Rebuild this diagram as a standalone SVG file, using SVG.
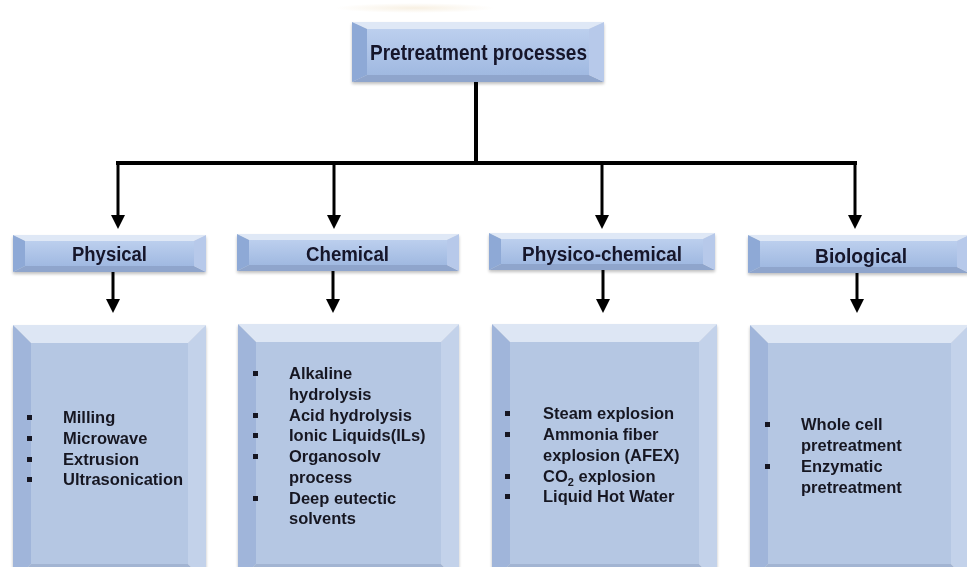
<svg xmlns="http://www.w3.org/2000/svg" width="967" height="567" viewBox="0 0 967 567">
<defs>
<style>
.face{fill:url(#gFace)}
.bt{fill:#dfe8f6}.bl{fill:#8ea9d6}.br{fill:#b7c9ea}.bb{fill:#8fa5cc}
.dface{fill:#b5c7e3}
.dt{fill:#dde6f4}.dl{fill:#a0b5da}.dr{fill:#c3d2ea}.db{fill:#a2b4d2}
.lbl{font-family:"Liberation Sans",Arial,sans-serif;font-weight:bold;font-size:20px;fill:#14142a;text-anchor:middle}
.ttl{font-size:22px}
.itm{font-family:"Liberation Sans",Arial,sans-serif;font-weight:bold;font-size:16.5px;fill:#181822}
.bul{fill:#181822}
.ln{stroke:#000;stroke-width:3;fill:none}
.bar{stroke:#000;stroke-width:4;fill:none}
</style>
<linearGradient id="gFace" x1="0" y1="0" x2="0" y2="1">
<stop offset="0" stop-color="#bccfee"/>
<stop offset="1" stop-color="#a0b9e1"/>
</linearGradient>
<filter id="sh" x="-5%" y="-10%" width="110%" height="130%">
<feDropShadow dx="0" dy="2" stdDeviation="1.5" flood-color="#000" flood-opacity="0.25"/>
</filter>
<marker id="ah" viewBox="0 0 14 14" refX="6" refY="7" markerWidth="14" markerHeight="14" markerUnits="userSpaceOnUse" orient="auto">
<path d="M0,0 L14,7 L0,14 Z" fill="#000"/>
</marker>
<radialGradient id="glow" cx="0.5" cy="0.5" r="0.5">
<stop offset="0" stop-color="#f3e6cf" stop-opacity="0.6"/>
<stop offset="1" stop-color="#f3e6cf" stop-opacity="0"/>
</radialGradient>
</defs>
<rect width="967" height="567" fill="#fff"/>
<ellipse cx="415" cy="8" rx="80" ry="5" fill="url(#glow)"/>

<g id="connectors">
<path class="bar" d="M476,82 V164"/>
<path class="bar" d="M116,163 H857"/>
<path class="ln" d="M118,163 V221" marker-end="url(#ah)"/>
<path class="ln" d="M334,163 V221" marker-end="url(#ah)"/>
<path class="ln" d="M602,163 V221" marker-end="url(#ah)"/>
<path class="ln" d="M855,163 V221" marker-end="url(#ah)"/>
<path class="ln" d="M113,272 V305" marker-end="url(#ah)"/>
<path class="ln" d="M333,271 V305" marker-end="url(#ah)"/>
<path class="ln" d="M603,270 V305" marker-end="url(#ah)"/>
<path class="ln" d="M857,273 V305" marker-end="url(#ah)"/>
</g>

<g id="root" filter="url(#sh)">
<rect class="face" x="367" y="29" width="222" height="46"/>
<polygon class="bt" points="352,22 604,22 589,29 367,29"/>
<polygon class="bb" points="352,82 604,82 589,75 367,75"/>
<polygon class="bl" points="352,22 367,29 367,75 352,82"/>
<polygon class="br" points="604,22 589,29 589,75 604,82"/>
<text class="lbl ttl" x="478.5" y="60" textLength="217" lengthAdjust="spacingAndGlyphs">Pretreatment processes</text>
</g>

<g id="physical" filter="url(#sh)">
<rect class="face" x="25" y="241" width="169" height="25"/>
<polygon class="bt" points="13,235 206,235 194,241 25,241"/>
<polygon class="bb" points="13,272 206,272 194,266 25,266"/>
<polygon class="bl" points="13,235 25,241 25,266 13,272"/>
<polygon class="br" points="206,235 194,241 194,266 206,272"/>
<text class="lbl" x="109.5" y="261" textLength="75" lengthAdjust="spacingAndGlyphs">Physical</text>
</g>

<g id="chemical" filter="url(#sh)">
<rect class="face" x="249" y="240" width="198" height="25"/>
<polygon class="bt" points="237,234 459,234 447,240 249,240"/>
<polygon class="bb" points="237,271 459,271 447,265 249,265"/>
<polygon class="bl" points="237,234 249,240 249,265 237,271"/>
<polygon class="br" points="459,234 447,240 447,265 459,271"/>
<text class="lbl" x="347.5" y="261" textLength="83" lengthAdjust="spacingAndGlyphs">Chemical</text>
</g>

<g id="physicochemical" filter="url(#sh)">
<rect class="face" x="501" y="239" width="202" height="25"/>
<polygon class="bt" points="489,233 715,233 703,239 501,239"/>
<polygon class="bb" points="489,270 715,270 703,264 501,264"/>
<polygon class="bl" points="489,233 501,239 501,264 489,270"/>
<polygon class="br" points="715,233 703,239 703,264 715,270"/>
<text class="lbl" x="602" y="260.5" textLength="160" lengthAdjust="spacingAndGlyphs">Physico-chemical</text>
</g>

<g id="biological" filter="url(#sh)">
<rect class="face" x="760" y="241" width="197" height="26"/>
<polygon class="bt" points="748,235 969,235 957,241 760,241"/>
<polygon class="bb" points="748,273 969,273 957,267 760,267"/>
<polygon class="bl" points="748,235 760,241 760,267 748,273"/>
<polygon class="br" points="969,235 957,241 957,267 969,273"/>
<text class="lbl" x="861" y="262.5" textLength="92" lengthAdjust="spacingAndGlyphs">Biological</text>
</g>

<g id="physical-methods" filter="url(#sh)">
<rect class="dface" x="31" y="343" width="157" height="221"/>
<polygon class="dt" points="13,325 206,325 188,343 31,343"/>
<polygon class="db" points="13,582 206,582 188,564 31,564"/>
<polygon class="dl" points="13,325 31,343 31,564 13,582"/>
<polygon class="dr" points="206,325 188,343 188,564 206,582"/>
<rect class="bul" x="27" y="415" width="5" height="5"/>
<rect class="bul" x="27" y="436" width="5" height="5"/>
<rect class="bul" x="27" y="457" width="5" height="5"/>
<rect class="bul" x="27" y="477" width="5" height="5"/>
<text class="itm" x="63" y="423">Milling</text>
<text class="itm" x="63" y="444">Microwave</text>
<text class="itm" x="63" y="465">Extrusion</text>
<text class="itm" x="63" y="485">Ultrasonication</text>
</g>

<g id="chemical-methods" filter="url(#sh)">
<rect class="dface" x="256" y="342" width="185" height="222"/>
<polygon class="dt" points="238,324 459,324 441,342 256,342"/>
<polygon class="db" points="238,582 459,582 441,564 256,564"/>
<polygon class="dl" points="238,324 256,342 256,564 238,582"/>
<polygon class="dr" points="459,324 441,342 441,564 459,582"/>
<rect class="bul" x="253" y="371" width="5" height="5"/>
<rect class="bul" x="253" y="413" width="5" height="5"/>
<rect class="bul" x="253" y="433" width="5" height="5"/>
<rect class="bul" x="253" y="454" width="5" height="5"/>
<rect class="bul" x="253" y="496" width="5" height="5"/>
<text class="itm" x="289" y="379">Alkaline</text>
<text class="itm" x="289" y="400">hydrolysis</text>
<text class="itm" x="289" y="421">Acid hydrolysis</text>
<text class="itm" x="289" y="441">Ionic Liquids(ILs)</text>
<text class="itm" x="289" y="462">Organosolv</text>
<text class="itm" x="289" y="483">process</text>
<text class="itm" x="289" y="504">Deep eutectic</text>
<text class="itm" x="289" y="524">solvents</text>
</g>

<g id="physicochemical-methods" filter="url(#sh)">
<rect class="dface" x="510" y="342" width="189" height="222"/>
<polygon class="dt" points="492,324 717,324 699,342 510,342"/>
<polygon class="db" points="492,582 717,582 699,564 510,564"/>
<polygon class="dl" points="492,324 510,342 510,564 492,582"/>
<polygon class="dr" points="717,324 699,342 699,564 717,582"/>
<rect class="bul" x="505" y="411" width="5" height="5"/>
<rect class="bul" x="505" y="432" width="5" height="5"/>
<rect class="bul" x="505" y="474" width="5" height="5"/>
<rect class="bul" x="505" y="494" width="5" height="5"/>
<text class="itm" x="543" y="419">Steam explosion</text>
<text class="itm" x="543" y="440">Ammonia fiber</text>
<text class="itm" x="543" y="461">explosion (AFEX)</text>
<text class="itm" x="543" y="482">CO<tspan font-size="11" dy="4">2</tspan><tspan dy="-4"> explosion</tspan></text>
<text class="itm" x="543" y="502">Liquid Hot Water</text>
</g>

<g id="biological-methods" filter="url(#sh)">
<rect class="dface" x="768" y="343" width="183" height="221"/>
<polygon class="dt" points="750,325 969,325 951,343 768,343"/>
<polygon class="db" points="750,582 969,582 951,564 768,564"/>
<polygon class="dl" points="750,325 768,343 768,564 750,582"/>
<polygon class="dr" points="969,325 951,343 951,564 969,582"/>
<rect class="bul" x="765" y="422" width="5" height="5"/>
<rect class="bul" x="765" y="464" width="5" height="5"/>
<text class="itm" x="801" y="430">Whole cell</text>
<text class="itm" x="801" y="451">pretreatment</text>
<text class="itm" x="801" y="472">Enzymatic</text>
<text class="itm" x="801" y="493">pretreatment</text>
</g>
</svg>
